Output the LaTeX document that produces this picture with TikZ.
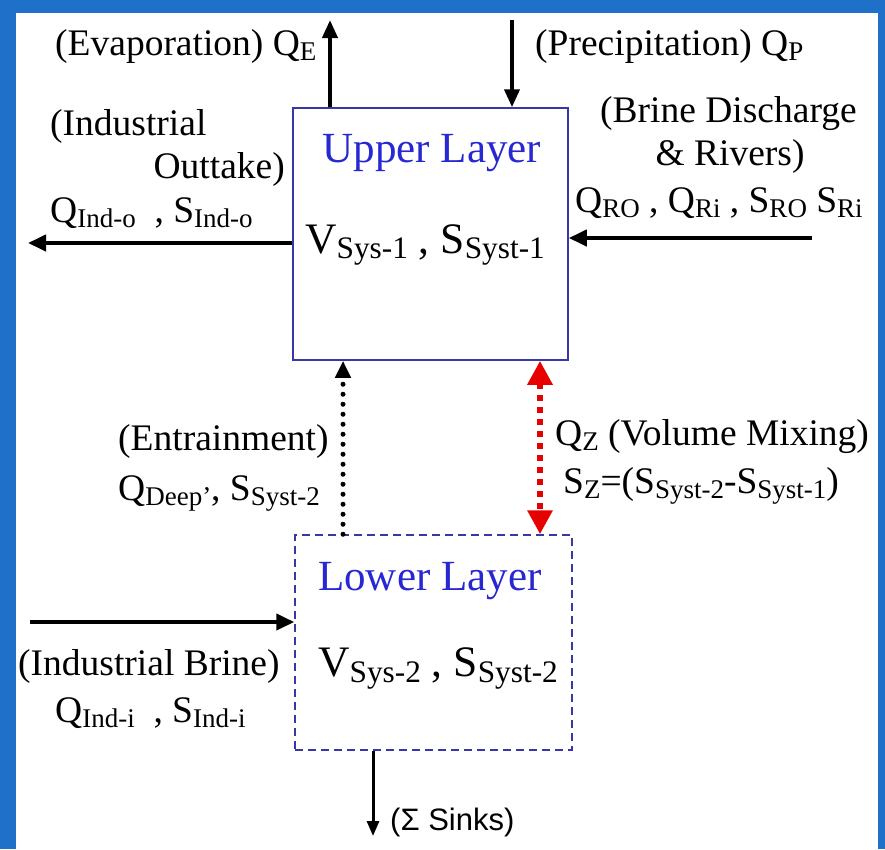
\documentclass[tikz,border=0pt]{standalone}
\usepackage{fontspec}
\setmainfont{LiberationSerif}[Extension=.ttf, UprightFont=*-Regular, BoldFont=*-Bold, ItalicFont=*-Italic]
\newfontfamily\arialf{Liberation Sans}
\usepackage{graphicx}
\usetikzlibrary{arrows.meta}
\definecolor{bgblue}{RGB}{31,112,200}
\definecolor{boxblue}{RGB}{55,55,170}
\definecolor{titleblue}{RGB}{40,40,210}
\definecolor{mixred}{RGB}{230,0,0}
\newcommand\sbs[1]{\raisebox{-.3ex}{\scalebox{.72}{#1}}}
\begin{document}
\begin{tikzpicture}[x=1pt,y=-1pt,
  lbl/.style={inner sep=0pt, font=\rmfamily\fontsize{37.5}{40}\selectfont},
  vlbl/.style={inner sep=0pt, font=\rmfamily\fontsize{43.5}{45}\selectfont},
  titlelbl/.style={inner sep=0pt, text=titleblue, font=\rmfamily\fontsize{43}{45}\selectfont},
  sinklbl/.style={inner sep=0pt, font=\arialf\fontsize{31}{33}\selectfont},
  layerbox/.style={draw=boxblue, line width=1.5pt, inner sep=0pt},
  hflow/.style={line width=4pt, -{Triangle[length=18pt,width=16pt]}},
  vflow/.style={line width=4pt, -{Triangle[length=18pt,width=15pt]}},
  sinkflow/.style={line width=3pt, -{Triangle[length=15pt,width=12pt]}},
  dotflow/.style={line width=5pt, line cap=round, dash pattern=on 0pt off 10pt, -{Triangle[length=17pt,width=15pt]}},
  mixflow/.style={line width=6pt, mixred, dash pattern=on 6pt off 6pt, {Triangle[length=24pt,width=24pt]}-{Triangle[length=24pt,width=24pt]}}
]
\useasboundingbox (0,0) rectangle (885,849);
\fill[bgblue] (0,0) rectangle (885,849);
\fill[white] (16,13) rectangle (878,849);

\node[layerbox, minimum width=275pt, minimum height=252pt] (U) at (430.5,234) {};
\node[layerbox, dash pattern=on 8pt off 5pt, minimum width=277pt, minimum height=215pt] (L) at (433.5,642.5) {};

\coordinate (evapTop) at (330,20);
\draw[vflow] (U.north -| evapTop) -- (evapTop);
\coordinate (precTop) at (512,20);
\draw[vflow] (precTop) -- (U.north -| precTop);
\coordinate (outEnd) at (28,243);
\draw[hflow] (U.west |- outEnd) -- (outEnd);
\coordinate (brineStart) at (812,238);
\draw[hflow] (brineStart) -- (U.east |- brineStart);
\coordinate (entX) at (343,0);
\draw[dotflow] (L.north -| entX) -- (U.south -| entX);
\coordinate (mixX) at (540,0);
\draw[mixflow] (U.south -| mixX) -- (L.north -| mixX);
\coordinate (indStart) at (30,622);
\draw[hflow] (indStart) -- (L.west |- indStart);
\coordinate (sinkEnd) at (373,836);
\draw[sinkflow] (L.south -| sinkEnd) -- (sinkEnd);

\node[lbl, anchor=base west] (tEvap) at (55,55) {(Evaporation) Q\sbs{E}};
\node[lbl, anchor=base west] (tPrec) at (535,55) {(Precipitation) Q\sbs{P}};
\node[lbl, anchor=base west] (tInd1) at (50,135) {(Industrial};
\node[lbl, anchor=base east] (tInd2) at (285,178) {Outtake)};
\node[lbl, anchor=base west] (tInd3) at (50,222) {Q\sbs{Ind-o}\ \ , S\sbs{Ind-o}};
\node[lbl, anchor=base west] (tBr1) at (600,122) {(Brine Discharge};
\node[lbl, anchor=base] (tBr2) at (730,165) {\& Rivers)};
\node[lbl, anchor=base west] (tBr3) at (575,212) {Q\sbs{RO} , Q\sbs{Ri} , S\sbs{RO} S\sbs{Ri}};
\node[titlelbl, anchor=base] (tUp) at (432,162) {Upper Layer};
\node[vlbl, anchor=base west] (tV1) at (305,253) {V\sbs{Sys-1} , S\sbs{Syst-1}};
\node[lbl, anchor=base west] (tEnt1) at (118,450) {(Entrainment)};
\node[lbl, anchor=base west] (tEnt2) at (118,500) {Q\sbs{Deep’}, S\sbs{Syst-2}};
\node[lbl, anchor=base west] (tMix1) at (555,445) {Q\sbs{Z} (Volume Mixing)};
\node[lbl, anchor=base west] (tMix2) at (563,493) {S\sbs{Z}=(S\sbs{Syst-2}-S\sbs{Syst-1})};
\node[titlelbl, anchor=base west] (tLow) at (318,590) {Lower Layer};
\node[vlbl, anchor=base west] (tV2) at (318,676) {V\sbs{Sys-2} , S\sbs{Syst-2}};
\node[lbl, anchor=base west] (tIb1) at (18,675) {(Industrial Brine)};
\node[lbl, anchor=base west] (tIb2) at (55,722) {Q\sbs{Ind-i}\ \ , S\sbs{Ind-i}};
\node[sinklbl, anchor=base west] (tSink) at (390,830) {(Σ Sinks)};
\end{tikzpicture}
\end{document}
